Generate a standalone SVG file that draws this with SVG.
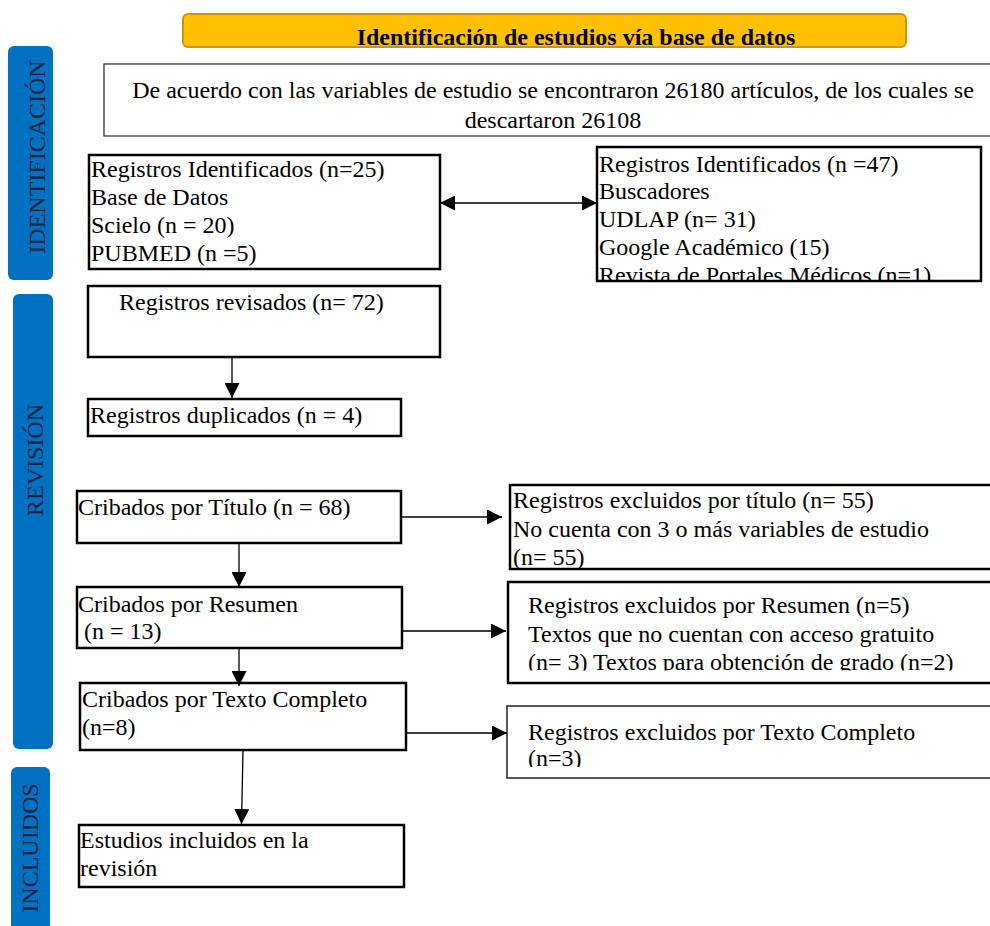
<svg xmlns="http://www.w3.org/2000/svg" width="990" height="926" viewBox="0 0 990 926">
<style>
.t{font-family:"Liberation Serif","Times New Roman",serif;font-size:24px;fill:#000}
.b{font-family:"Liberation Serif","Times New Roman",serif;font-size:24px;font-weight:bold;fill:#000}
.side{font-family:"Liberation Serif","Times New Roman",serif;font-size:24px;fill:#10213f}
.bar{fill:#0070C0}
.box{fill:#fff;stroke:#000;stroke-width:2.5}
.thin{fill:#fff;stroke:#222;stroke-width:1.5}
.con{stroke:#000;stroke-width:1.3;fill:none}
</style>
<defs>
<marker id="ah" viewBox="0 0 10 10" refX="10" refY="5" markerUnits="userSpaceOnUse" markerWidth="15" markerHeight="15" orient="auto-start-reverse">
<path d="M0,0 L10,5 L0,10 z" fill="#000"/>
</marker>
<clipPath id="c1"><rect x="104" y="64" width="900" height="64"/></clipPath>
<clipPath id="c2"><rect x="597" y="147" width="384" height="133"/></clipPath>
<clipPath id="c3"><rect x="508" y="582" width="500" height="88.5"/></clipPath>
<clipPath id="c4"><rect x="507" y="706" width="500" height="61"/></clipPath>
<clipPath id="c5"><rect x="510" y="485" width="500" height="83"/></clipPath>
</defs>

<g id="title">
<rect x="183" y="14" width="723" height="33" rx="5" fill="#FFC000" stroke="#C9960C" stroke-width="2"/>
<text class="b" x="576" y="45" text-anchor="middle">Identificación de estudios vía base de datos</text>
</g>

<g id="bar-identificacion">
<rect class="bar" x="8" y="46" width="45" height="234" rx="6"/>
<text class="side" transform="translate(45,157) rotate(-90)" text-anchor="middle">IDENTIFICACIÓN</text>
</g>
<g id="bar-revision">
<rect class="bar" x="13" y="294" width="40" height="455" rx="6"/>
<text class="side" transform="translate(43,460) rotate(-90)" text-anchor="middle">REVISIÓN</text>
</g>
<g id="bar-incluidos">
<rect class="bar" x="11" y="767" width="39" height="175" rx="6"/>
<text class="side" transform="translate(38,848) rotate(-90)" text-anchor="middle">INCLUIDOS</text>
</g>

<g id="intro">
<rect x="104" y="64" width="900" height="72" fill="#fff" stroke="#333" stroke-width="1.3"/>
<g clip-path="url(#c1)">
<text class="t" x="553" y="98" text-anchor="middle">De acuerdo con las variables de estudio se encontraron 26180 artículos, de los cuales se</text>
<text class="t" x="553" y="128" text-anchor="middle">descartaron 26108</text>
</g>
</g>

<g id="reg-bd">
<rect class="box" x="89" y="155" width="351" height="114"/>
<text class="t" x="91" y="177">Registros Identificados (n=25)</text>
<text class="t" x="91" y="205">Base de Datos</text>
<text class="t" x="91" y="233">Scielo (n = 20)</text>
<text class="t" x="91" y="261">PUBMED (n =5)</text>
</g>

<g id="reg-buscadores">
<rect class="box" x="597" y="147" width="384" height="134"/>
<g clip-path="url(#c2)">
<text class="t" x="599" y="172">Registros Identificados (n =47)</text>
<text class="t" x="599" y="199">Buscadores</text>
<text class="t" x="599" y="227">UDLAP (n= 31)</text>
<text class="t" x="599" y="255">Google Académico (15)</text>
<text class="t" x="599" y="283">Revista de Portales Médicos (n=1)</text>
</g>
</g>

<g id="revisados">
<rect class="box" x="88" y="286" width="352" height="71"/>
<text class="t" x="119" y="310">Registros revisados (n= 72)</text>
</g>

<g id="duplicados">
<rect class="box" x="88" y="399" width="313" height="37"/>
<text class="t" x="90" y="423">Registros duplicados (n = 4)</text>
</g>

<g id="titulo">
<rect class="box" x="77" y="491" width="324" height="52"/>
<text class="t" x="78" y="515">Cribados por Título (n = 68)</text>
</g>

<g id="excl-titulo">
<rect class="box" x="510" y="485" width="500" height="84"/>
<g clip-path="url(#c5)">
<text class="t" x="513" y="508">Registros excluidos por título (n= 55)</text>
<text class="t" x="513" y="537">No cuenta con 3 o más variables de estudio</text>
<text class="t" x="513" y="565">(n= 55)</text>
</g>
</g>

<g id="resumen">
<rect class="box" x="77" y="587" width="325" height="61"/>
<text class="t" x="78" y="612">Cribados por Resumen</text>
<text class="t" x="78" y="639" xml:space="preserve"> (n = 13)</text>
</g>

<g id="excl-resumen">
<rect class="box" x="508" y="582" width="500" height="101" stroke-width="2"/>
<g clip-path="url(#c3)">
<text class="t" x="528" y="613">Registros excluidos por Resumen (n=5)</text>
<text class="t" x="528" y="642">Textos que no cuentan con acceso gratuito</text>
<text class="t" x="528" y="670">(n= 3) Textos para obtención de grado (n=2)</text>
</g>
</g>

<g id="texto-completo">
<rect class="box" x="80" y="683" width="326" height="67"/>
<text class="t" x="82" y="707">Cribados por Texto Completo</text>
<text class="t" x="82" y="735">(n=8)</text>
</g>

<g id="excl-texto">
<rect class="thin" x="507" y="706" width="500" height="72"/>
<g clip-path="url(#c4)">
<text class="t" x="528" y="740">Registros excluidos por Texto Completo</text>
<text class="t" x="528" y="766">(n=3)</text>
</g>
</g>

<g id="incluidos">
<rect class="box" x="79" y="825" width="325" height="62"/>
<text class="t" x="80" y="848">Estudios incluidos en la</text>
<text class="t" x="80" y="876">revisión</text>
</g>

<g id="connectors">
<line class="con" x1="440" y1="203" x2="597" y2="203" marker-start="url(#ah)" marker-end="url(#ah)"/>
<line class="con" x1="232" y1="357" x2="232" y2="398" marker-end="url(#ah)"/>
<line class="con" x1="401" y1="517" x2="502" y2="517" marker-end="url(#ah)"/>
<line class="con" x1="239" y1="543" x2="239" y2="587" marker-end="url(#ah)"/>
<line class="con" x1="402" y1="631" x2="506" y2="631" marker-end="url(#ah)"/>
<line class="con" x1="239" y1="648" x2="239" y2="686" marker-end="url(#ah)"/>
<line class="con" x1="406" y1="733" x2="507" y2="733" marker-end="url(#ah)"/>
<line class="con" x1="243" y1="750" x2="241.5" y2="824" marker-end="url(#ah)"/>
</g>
</svg>
